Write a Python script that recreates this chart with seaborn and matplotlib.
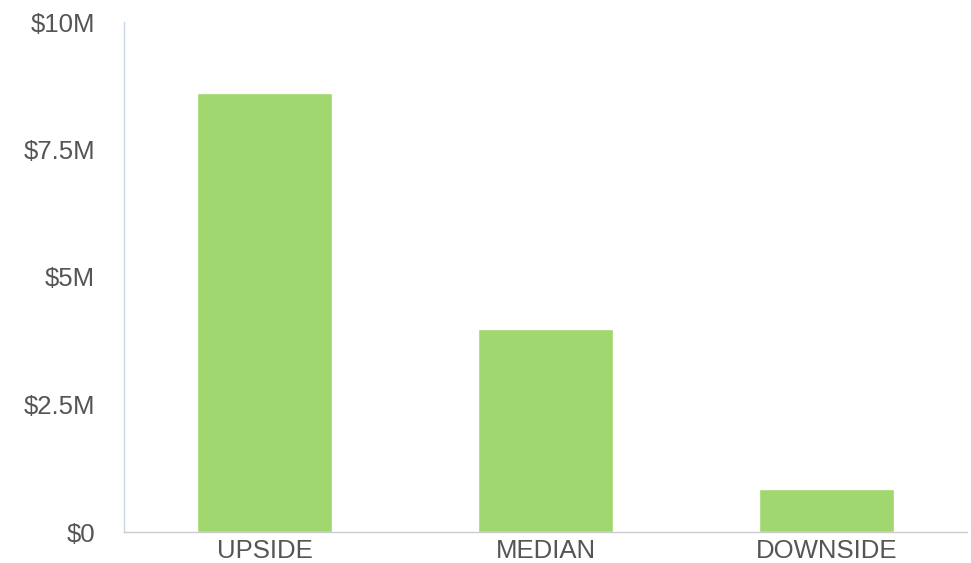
import matplotlib
matplotlib.use("Agg")
import matplotlib.pyplot as plt
import seaborn as sns
import pandas as pd

categories = ["UPSIDE", "MEDIAN", "DOWNSIDE"]
values = [8.61, 3.98, 0.84]  # $M
yticks = [0, 2.5, 5, 7.5, 10]
ytick_labels = ["$0", "$2.5M", "$5M", "$7.5M", "$10M"]

sns.set_style("white")
plt.rcParams['font.family'] = ['Liberation Sans', 'DejaVu Sans']

df = pd.DataFrame({"category": categories, "value": values})

fig = plt.figure(figsize=(9.71, 5.63), dpi=100)
ax = fig.add_axes([124/971, 1-532/563, (967-124)/971, (532-22)/563])
sns.barplot(data=df, x="category", y="value", color="#a0d76e", saturation=1,
            width=0.482, edgecolor="white", linewidth=1, ax=ax)
ax.set_xlim(-0.5, 2.5)
ax.set_ylim(0, 10)
ax.set_yticks(yticks)
ax.set_yticklabels(ytick_labels)
ax.set_xlabel("")
ax.set_ylabel("")
for s in ["top", "right"]:
    ax.spines[s].set_visible(False)
ax.spines["left"].set_color("#ccd6eb")
ax.spines["left"].set_linewidth(1)
ax.spines["bottom"].set_color("#cccccc")
ax.spines["bottom"].set_linewidth(1)
ax.tick_params(axis="y", length=0, pad=21, labelsize=18.5, labelcolor="#555555")
ax.tick_params(axis="x", length=0, pad=5, labelsize=18.5, labelcolor="#555555")
ax.grid(False)
fig.savefig("out.png", dpi=100)
